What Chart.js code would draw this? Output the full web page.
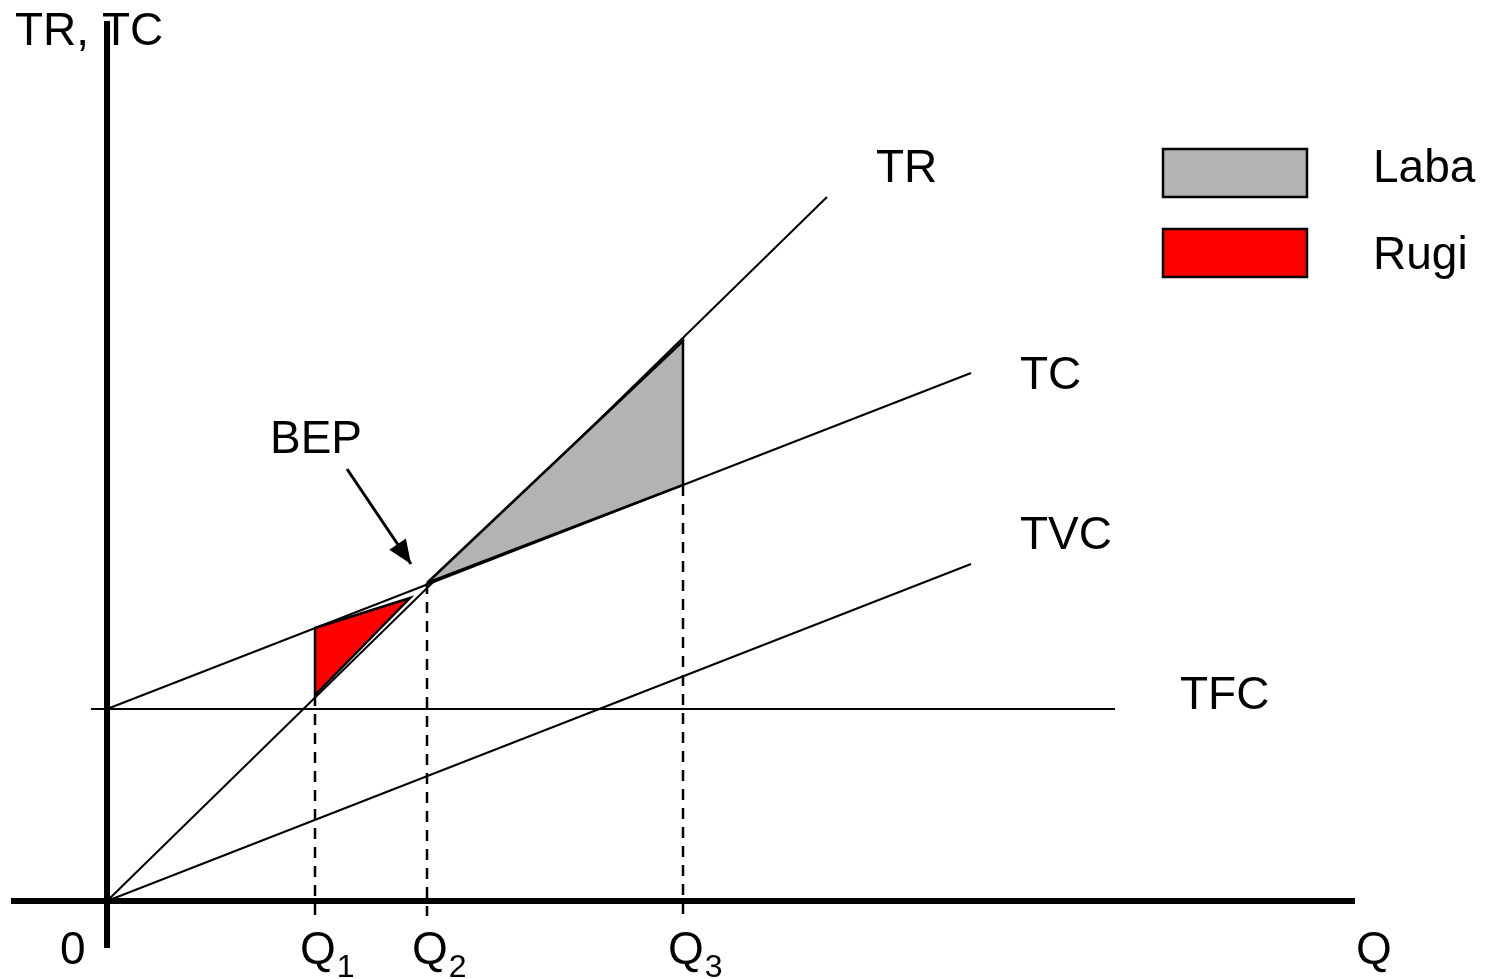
<!DOCTYPE html>
<html>
<head>
<meta charset="utf-8">
<script src="https://cdn.jsdelivr.net/npm/chart.js@4/dist/chart.umd.min.js"></script>
<style>
  html, body { margin: 0; padding: 0; background: #fff; }
  canvas { display: block; }
</style>
</head>
<body>
<canvas id="bepChart" width="1488" height="979"></canvas>
<script>
// values in chart units, origin = where the two axes cross
const trLine  = [[0, 0], [720, 704]];
const tcLine  = [[0, 192], [864, 528]];
const tvcLine = [[0, 0], [864, 337]];
const tfcLine = [[-16, 192], [1008, 192]];

const qValues = [208, 320, 576];      // Q1, Q2, Q3
const qTops   = [206, 318, 416];      // where each dashed guide starts
const qBottom = -15;

const labaArea = [[320, 318], [576, 560], [576, 416]];
const rugiArea = [[208, 206], [208, 273], [303, 303]];

const xAxisLine = [[-96, 0], [1248, 0]];
const yAxisLine = [[0, 880], [0, -47]];
const bepArrow  = [[240, 432], [304, 337]];

const qTickLabels = ['1', '2', '3'];

const toPts = arr => arr.map(p => ({ x: p[0], y: p[1] }));
const closed = arr => toPts(arr.concat([arr[0]]));

const FONT = '"Liberation Sans", Arial, sans-serif';

const lineDs = (pts, width, extra) => Object.assign({
    data: toPts(pts),
    borderColor: '#000',
    borderWidth: width,
    pointRadius: 0,
    fill: false,
    tension: 0
}, extra || {});

const datasets = [
    lineDs(labaArea, 2.5, { data: closed(labaArea), fill: 'shape', backgroundColor: '#b3b3b3' }),
    lineDs(rugiArea, 2.5, { data: closed(rugiArea), fill: 'shape', backgroundColor: '#ff0000' }),
    lineDs(trLine, 2),
    lineDs(tcLine, 2),
    lineDs(tvcLine, 2),
    lineDs(tfcLine, 2)
];
qValues.forEach((q, i) => {
    datasets.push(lineDs([[q, qTops[i]], [q, qBottom]], 2.5, { borderDash: [11, 8] }));
});
datasets.push(lineDs(xAxisLine, 6));
datasets.push(lineDs(yAxisLine, 6));
datasets.push(lineDs(bepArrow, 3));

// text, arrow head and legend
const annotate = {
    id: 'annotate',
    afterDatasetsDraw(chart) {
        const ctx = chart.ctx;
        const sx = chart.scales.x, sy = chart.scales.y;
        const px = v => sx.getPixelForValue(v);
        const py = v => sy.getPixelForValue(v);

        ctx.save();
        // arrow head
        const a0 = bepArrow[0], a1 = bepArrow[1];
        const x0 = px(a0[0]), y0 = py(a0[1]), x1 = px(a1[0]), y1 = py(a1[1]);
        const ang = Math.atan2(y1 - y0, x1 - x0);
        const len = 24, half = 10;
        ctx.fillStyle = '#000';
        ctx.beginPath();
        ctx.moveTo(x1, y1);
        ctx.lineTo(x1 - len * Math.cos(ang) + half * Math.sin(ang), y1 - len * Math.sin(ang) - half * Math.cos(ang));
        ctx.lineTo(x1 - len * Math.cos(ang) - half * Math.sin(ang), y1 - len * Math.sin(ang) + half * Math.cos(ang));
        ctx.closePath();
        ctx.fill();

        ctx.fillStyle = '#000';
        ctx.textBaseline = 'alphabetic';
        ctx.textAlign = 'left';
        ctx.font = '46px ' + FONT;
        const labels = [
            ['TR, TC', -92, 856],
            ['TR', 769, 719],
            ['TC', 913, 512],
            ['TVC', 913, 352],
            ['TFC', 1073, 192],
            ['BEP', 163, 448],
            ['0', -47, -63],
            ['Q', 1249, -63]
        ];
        labels.forEach(l => ctx.fillText(l[0], px(l[1]), py(l[2])));

        // Q1..Q3 with subscripts
        qValues.forEach((q, i) => {
            ctx.font = '46px ' + FONT;
            const qx = px(q) - 15;
            ctx.fillText('Q', qx, py(-63));
            const w = ctx.measureText('Q').width;
            ctx.font = '32px ' + FONT;
            ctx.fillText(qTickLabels[i], qx + w + 1, py(-76));
        });

        // legend
        const legend = [
            ['Laba', '#b3b3b3', 149, 182],
            ['Rugi', '#ff0000', 229, 269]
        ];
        legend.forEach(item => {
            ctx.fillStyle = item[1];
            ctx.fillRect(1163, item[2], 144, 48);
            ctx.strokeStyle = '#000';
            ctx.lineWidth = 2.5;
            ctx.strokeRect(1163, item[2], 144, 48);
            ctx.fillStyle = '#000';
            ctx.font = '46px ' + FONT;
            ctx.fillText(item[0], 1373, item[3]);
        });
        ctx.restore();
    }
};

const ctx1 = document.getElementById('bepChart').getContext('2d');
const bepChart = new Chart(ctx1, {
    type: 'line',
    data: { datasets: datasets },
    options: {
        responsive: false,
        animation: false,
        devicePixelRatio: 1,
        layout: { padding: 0 },
        plugins: {
            legend: { display: false },
            tooltip: { enabled: false }
        },
        scales: {
            x: { type: 'linear', min: -107, max: 1381, display: false },
            y: { type: 'linear', min: -78, max: 901, display: false }
        }
    },
    plugins: [annotate]
});
</script>
</body>
</html>
